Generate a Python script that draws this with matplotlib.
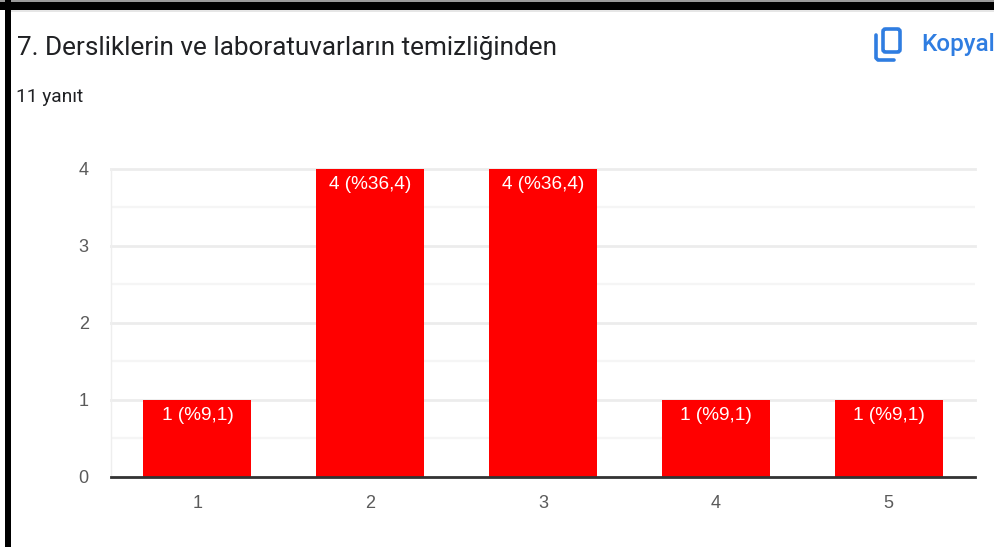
import matplotlib
matplotlib.use('Agg')
import matplotlib.pyplot as plt
from matplotlib.patches import Rectangle, FancyBboxPatch

categories = ['1', '2', '3', '4', '5']
counts = [1, 4, 4, 1, 1]
bar_labels = ['1 (%9,1)', '4 (%36,4)', '4 (%36,4)', '1 (%9,1)', '1 (%9,1)']
y_ticks = [0, 1, 2, 3, 4]
minor_ticks = [0.5, 1.5, 2.5, 3.5]
title = '7. Dersliklerin ve laboratuvarların temizliğinden'
subtitle = '11 yanıt'
copy_text = 'Kopyala'

W, H = 994, 547
plt.rcParams['font.family'] = ['Roboto', 'DejaVu Sans']
chart_font = ['Liberation Sans', 'DejaVu Sans']

fig = plt.figure(figsize=(W / 100, H / 100), dpi=100, facecolor='white')

# overlay in pixel coords for the screenshot frame
bg = fig.add_axes([0, 0, 1, 1])
bg.set_xlim(0, W)
bg.set_ylim(H, 0)
bg.axis('off')
bg.add_patch(Rectangle((0, 0), W, 1.5, color='#9a9a9a', lw=0))
bg.add_patch(Rectangle((0, 1.5), W, 8, color='black', lw=0))
bg.add_patch(Rectangle((5, 0), 6, H, color='black', lw=0))
bg.add_patch(Rectangle((11, 9.5), W, 2.5, color='#e6e6e6', lw=0))
bg.text(17, 48, title, fontsize=18.8, color='#202124', va='center', ha='left')
bg.text(16, 97, subtitle, fontsize=13.8, color='#202124', va='center', ha='left')

# copy icon
blue = '#2f7de1'
bg.add_patch(FancyBboxPatch((883, 29), 17, 23, boxstyle='round,pad=0,rounding_size=2.5',
                            fc='none', ec=blue, lw=2.6))
bg.plot([876, 876, 878, 894], [35, 58, 60, 60], color=blue, lw=2.6, solid_capstyle='round')
# runs off the right edge in the reference too
bg.text(921, 45, copy_text, fontsize=17.5, color=blue, va='center', ha='left', fontweight='medium')

left, right = 111, 975
top, bottom = 168.5, 476.5
ax = fig.add_axes([left / W, 1 - bottom / H, (right - left) / W, (bottom - top) / H])
ax.patch.set_alpha(0)
ax.bar(categories, counts, width=0.626, color='#ff0000', zorder=3)
ax.set_xlim(-0.5, 4.5)
ax.set_ylim(0, 4)

ax.set_yticks(y_ticks)
ax.set_yticks(minor_ticks, minor=True)
ax.grid(axis='y', which='major', color='#ececec', lw=2, zorder=0, clip_on=False)
ax.grid(axis='y', which='minor', color='#f5f5f5', lw=1.6, zorder=0)
ax.tick_params(axis='y', which='both', length=0, pad=16, labelsize=13, labelcolor='#5a5a5a')
ax.tick_params(axis='x', length=0, pad=13.5, labelsize=13, labelcolor='#5a5a5a')
for t in ax.get_xticklabels() + ax.get_yticklabels():
    t.set_fontfamily(chart_font)

for s in ['top', 'right']:
    ax.spines[s].set_visible(False)
ax.spines['left'].set_color('#eeeeee')
ax.spines['left'].set_linewidth(1)
ax.spines['bottom'].set_color('#333333')
ax.spines['bottom'].set_linewidth(2)
ax.spines['bottom'].set_zorder(5)

for i, (v, lab) in enumerate(zip(counts, bar_labels)):
    ax.annotate(lab, (i, v), xytext=(0, -11.5), textcoords='offset points', ha='center', va='center',
                color='white', fontsize=13.7, zorder=4, family=chart_font)

fig.savefig('out.png', dpi=100)
